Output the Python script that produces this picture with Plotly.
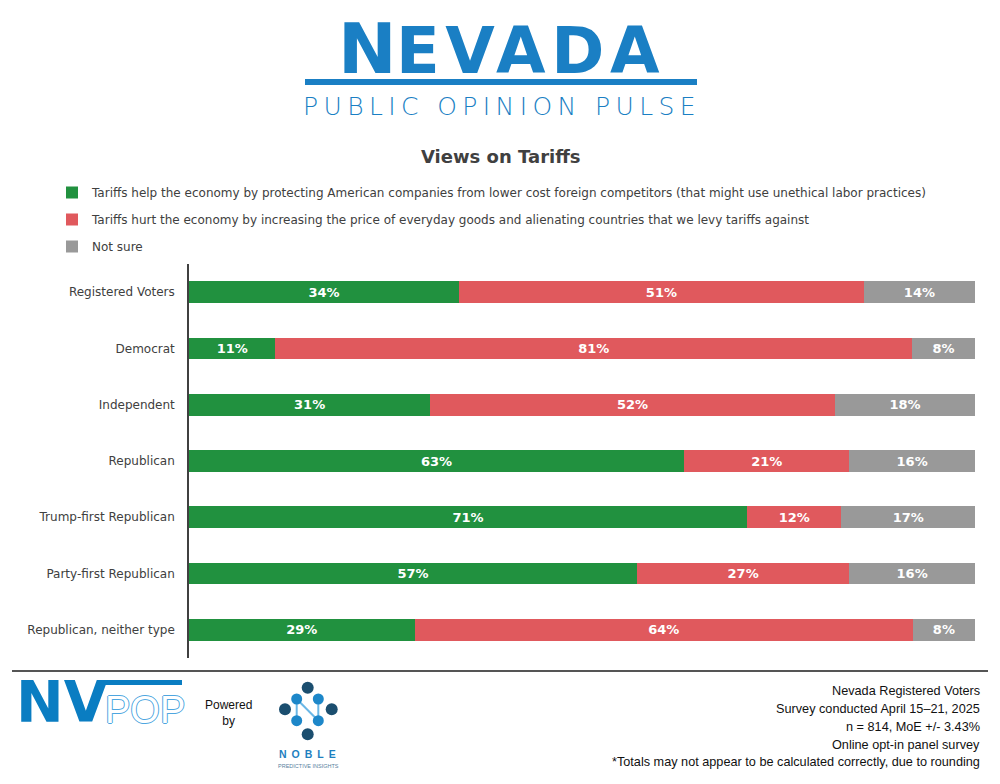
import plotly.graph_objects as go

# ---------------- data ----------------
categories = ["Registered Voters", "Democrat", "Independent", "Republican",
              "Trump-first Republican", "Party-first Republican", "Republican, neither type"]
help_vals = [34, 11, 31, 63, 71, 57, 29]
hurt_vals = [51, 81, 52, 21, 12, 27, 64]
notsure_vals = [14, 8, 18, 16, 17, 16, 8]
series_names = [
    "Tariffs help the economy by protecting American companies from lower cost foreign competitors (that might use unethical labor practices)",
    "Tariffs hurt the economy by increasing the price of everyday goods and alienating countries that we levy tariffs against",
    "Not sure",
]
series_colors = ["#21913f", "#e0595d", "#999999"]
title_text = "Views on Tariffs"
footer_lines = [
    "Nevada Registered Voters",
    "Survey conducted April 15\u201321, 2025",
    "n = 814, MoE +/- 3.43%",
    "Online opt-in panel survey",
    "*Totals may not appear to be calculated correctly, due to rounding",
]

# ---------------- layout geometry ----------------
OFF = 8                      # default page body margin
W, H = 1000 - OFF, 784 - OFF
L, T = 189 - OFF, 264 - OFF
R, B = W - (975 - OFF), H - (658 - OFF)
PW, PH = W - L - R, H - T - B


def px(x):                   # page pixel -> paper x
    return (x - OFF - L) / PW


def py(y):                   # page pixel -> paper y
    return (H - B - (y - OFF)) / PH


fig = go.Figure()
for i, (name, vals, col) in enumerate(zip(series_names, [help_vals, hurt_vals, notsure_vals], series_colors)):
    fig.add_trace(go.Bar(
        y=categories, x=vals, name=name, orientation="h",
        marker=dict(color=col, line=dict(width=0)),
        text=[f"{v}%" for v in vals], textposition="inside",
        insidetextanchor="middle", textangle=0,
        textfont=dict(family="DejaVu Sans", size=13, color="white", weight="bold"),
        legendgroup=f"g{i}", hoverinfo="skip",
    ))

BLUE = "#1a7fc4"
annotations = [
    # header
    dict(x=px(367), y=py(49.4), xref="paper", yref="paper", showarrow=False,
         xanchor="center", yanchor="middle", text="N",
         font=dict(family="DejaVu Sans", size=70, color=BLUE, weight="bold")),
    dict(x=px(530), y=py(51.5), xref="paper", yref="paper", showarrow=False,
         xanchor="center", yanchor="middle",
         text="<span style='letter-spacing:5.6px'>EVADA</span>",
         font=dict(family="DejaVu Sans", size=64, color=BLUE, weight="bold")),
    dict(x=px(502), y=py(106.4), xref="paper", yref="paper", showarrow=False,
         xanchor="center", yanchor="middle",
         text="<span style='letter-spacing:5.4px'>PUBLIC OPINION PULSE</span>",
         font=dict(family="DejaVu Sans", size=25, color=BLUE, weight=200)),
    dict(x=px(501), y=py(156.6), xref="paper", yref="paper", showarrow=False,
         xanchor="center", yanchor="middle", text=f"<b>{title_text}</b>",
         font=dict(family="DejaVu Sans", size=18, color="#404040")),
    # NVPOP logo
    dict(x=px(62), y=py(702), xref="paper", yref="paper", showarrow=False,
         xanchor="center", yanchor="middle", text="NV",
         font=dict(family="DejaVu Sans", size=57, color="#0a7dc2", weight="bold")),
    dict(x=px(145), y=py(710), xref="paper", yref="paper", showarrow=False,
         xanchor="center", yanchor="middle", text="POP",
         font=dict(family="Liberation Sans", size=38, color="white",
                   shadow="1px 0 0 #4ea6e0, -1px 0 0 #4ea6e0, 0 1px 0 #4ea6e0, 0 -1px 0 #4ea6e0")),
    dict(x=px(228), y=py(713), xref="paper", yref="paper", showarrow=False,
         xanchor="center", yanchor="middle", text="Powered<br>by",
         font=dict(family="Liberation Sans", size=12, color="#111111")),
    dict(x=px(310), y=py(754), xref="paper", yref="paper", showarrow=False,
         xanchor="center", yanchor="middle",
         text="<span style='letter-spacing:5px'>NOBLE</span>",
         font=dict(family="Liberation Sans", size=10.5, color="#1e7fc0", weight="bold")),
    dict(x=px(308), y=py(766), xref="paper", yref="paper", showarrow=False,
         xanchor="center", yanchor="middle", text="PREDICTIVE INSIGHTS",
         font=dict(family="Liberation Sans", size=5.5, color="#5a7fa0")),
]
centers = [690.5, 708.8, 727.2, 745.0, 762.2]
for line, cy in zip(footer_lines, centers):
    annotations.append(dict(x=px(982), y=py(cy), xref="paper", yref="paper", showarrow=False,
                            xanchor="right", yanchor="middle", text=line,
                            font=dict(family="Liberation Sans", size=12.7, color="#111111")))

shapes = [
    dict(type="rect", xref="paper", yref="paper", x0=px(305), x1=px(697), y0=py(79), y1=py(85),
         fillcolor=BLUE, line=dict(width=0)),
    dict(type="line", xref="paper", yref="paper", x0=px(12), x1=px(988), y0=py(671), y1=py(671),
         line=dict(color="#555555", width=1.8)),
    dict(type="rect", xref="paper", yref="paper", x0=px(103), x1=px(182), y0=py(680), y1=py(685),
         fillcolor="#0a7dc2", line=dict(width=0)),
]
# Noble logo
LINE_C = "#6ab7e6"
for (x0, y0, x1, y1) in [(296.7, 699, 296.7, 720.7), (296.7, 699, 318.3, 720.7), (318.3, 699, 318.3, 720.7)]:
    shapes.append(dict(type="line", xref="paper", yref="paper", x0=px(x0), x1=px(x1), y0=py(y0), y1=py(y1),
                       line=dict(color=LINE_C, width=2)))
dots = [(307.7, 687.7, "#1b4e6f", 6), (296.7, 699, "#1d87c9", 5.5), (318.3, 699, "#1d87c9", 5.5),
        (285, 709.3, "#1b4e6f", 6), (331.7, 709.3, "#1b4e6f", 6), (296.7, 720.7, "#1d87c9", 5.5),
        (318.3, 720.7, "#1d87c9", 5.5), (307.7, 734.3, "#1b4e6f", 6)]
for (cx, cy, col, r) in dots:
    shapes.append(dict(type="circle", xref="paper", yref="paper", x0=px(cx - r), x1=px(cx + r),
                       y0=py(cy + r), y1=py(cy - r), fillcolor=col, line=dict(width=0)))

fig.update_layout(
    width=W, height=H, margin=dict(l=L, r=R, t=T, b=B, pad=0, autoexpand=False),
    barmode="stack", barnorm="percent", bargap=0.614,
    paper_bgcolor="white", plot_bgcolor="white",
    font=dict(family="DejaVu Sans", size=12, color="#404040"),
    xaxis=dict(range=[0, 100], showticklabels=False, showgrid=False, zeroline=False, showline=False,
               fixedrange=True),
    yaxis=dict(autorange="reversed", showgrid=False, zeroline=False, showline=True,
               linecolor="#404040", linewidth=1.6, ticks="", ticklabelstandoff=10,
               tickfont=dict(family="DejaVu Sans", size=12, color="#404040"), fixedrange=True),
    showlegend=True,
    legend=dict(orientation="v", xref="container", yref="container",
                x=(52 - OFF) / W, y=1 - (178 - OFF) / H,
                xanchor="left", yanchor="top", tracegroupgap=8, traceorder="grouped",
                font=dict(family="DejaVu Sans", size=12, color="#404040"), bgcolor="rgba(0,0,0,0)"),
    annotations=annotations, shapes=shapes,
)

fig.write_html("out.html")
